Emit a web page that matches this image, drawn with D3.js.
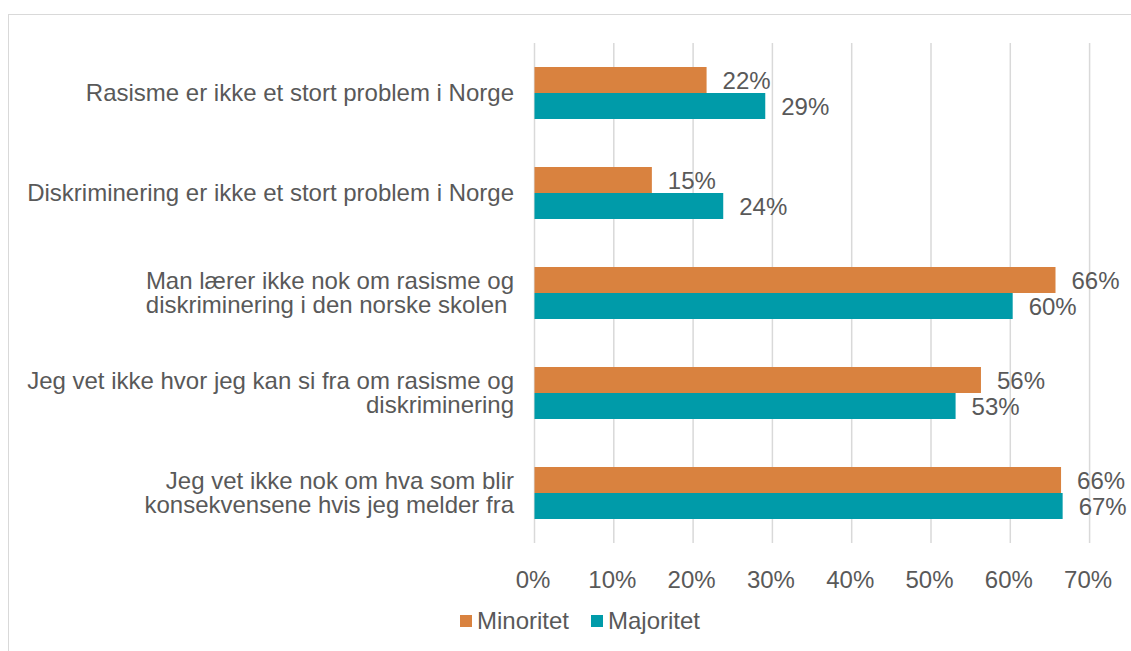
<!DOCTYPE html>
<html>
<head>
<meta charset="utf-8">
<script src="https://cdn.jsdelivr.net/npm/d3@7"></script>
<style>
  body { margin: 0; background: #fff; }
  svg { display: block; font-family: "Liberation Sans", Arial, sans-serif; }
</style>
</head>
<body>
<div id="chart"></div>
<script>
// Kategorier (hver linje i etiketten er et eget element)
const categories = [
  ["Rasisme er ikke et stort problem i Norge"],
  ["Diskriminering er ikke et stort problem i Norge"],
  ["Man lærer ikke nok om rasisme og", "diskriminering i den norske skolen "],
  ["Jeg vet ikke hvor jeg kan si fra om rasisme og", "diskriminering"],
  ["Jeg vet ikke nok om hva som blir", "konsekvensene hvis jeg melder fra"]
];
const seriesNames = ["Minoritet", "Majoritet"];
const minoritet = [0.217, 0.148, 0.657, 0.563, 0.664];
const majoritet = [0.291, 0.238, 0.603, 0.531, 0.666];
const xTicks = [0, 0.1, 0.2, 0.3, 0.4, 0.5, 0.6, 0.7];
const colors = ["#D9823F", "#009BA9"];

const width = 1131, height = 651;
const plot = { left: 534.5, right: 1089.6, top: 43, bottom: 543 };
const textColor = "#595959";
const fontSize = 24;

const svg = d3.select("#chart").append("svg")
  .attr("width", width)
  .attr("height", height);

// Ramme rundt diagrammet
svg.append("rect")
  .attr("x", 8.5).attr("y", 14.5)
  .attr("width", 1130).attr("height", 650)
  .attr("fill", "none")
  .attr("stroke", "#d9d9d9")
  .attr("stroke-width", 1);

const x = d3.scaleLinear().domain([0, 0.7]).range([plot.left, plot.right]);
const y = d3.scaleBand().domain(d3.range(categories.length))
  .range([plot.top, plot.bottom]).paddingInner(0.48).paddingOuter(0.24);
const ySub = d3.scaleBand().domain([0, 1]).range([0, y.bandwidth()]);

// Rutenett
svg.append("g").selectAll("line").data(xTicks).enter().append("line")
  .attr("x1", d => x(d)).attr("x2", d => x(d))
  .attr("y1", plot.top).attr("y2", plot.bottom)
  .attr("stroke", "#d9d9d9")
  .attr("stroke-width", 1.5);

// X-akse
const xAxis = d3.axisBottom(x).tickValues(xTicks).tickFormat(d3.format(".0%")).tickSize(0).tickPadding(0);
const gx = svg.append("g")
  .attr("transform", "translate(-2, 588)")
  .call(xAxis);
gx.select(".domain").remove();
gx.selectAll("text")
  .attr("fill", textColor)
  .attr("font-size", fontSize)
  .attr("font-family", "Liberation Sans, Arial, sans-serif")
  .attr("y", 0)
  .attr("dy", 0);

// Søyler
const series = [minoritet, majoritet];
const fmt = d3.format(".0%");
series.forEach((vals, s) => {
  const g = svg.append("g");
  g.selectAll("rect").data(vals).enter().append("rect")
    .attr("x", x(0))
    .attr("y", (d, i) => y(i) + ySub(s))
    .attr("width", d => x(d) - x(0))
    .attr("height", ySub.bandwidth())
    .attr("fill", colors[s]);
  g.selectAll("text").data(vals).enter().append("text")
    .attr("x", d => x(d) + 16)
    .attr("y", (d, i) => y(i) + ySub(s) + ySub.bandwidth() / 2)
    .attr("dy", "0.38em")
    .attr("fill", textColor)
    .attr("font-size", fontSize)
    .text(d => fmt(d));
});

// Kategorietiketter
const labelX = 514;
const lineH = 24;
const cat = svg.append("g").selectAll("text").data(categories).enter().append("text")
  .attr("text-anchor", "end")
  .attr("fill", textColor)
  .attr("font-size", fontSize)
  .attr("xml:space", "preserve")
  .attr("y", (d, i) => y(i) + y.bandwidth() / 2);
cat.each(function(lines) {
  const t = d3.select(this);
  lines.forEach((line, k) => {
    t.append("tspan")
      .attr("x", labelX)
      .attr("dy", k === 0 ? `${0.35 * fontSize - (lines.length - 1) * lineH / 2}px` : `${lineH}px`)
      .text(line);
  });
});

// Forklaring
const legendY = 621;
const legendItems = [{ x: 460, name: seriesNames[0], c: colors[0] }, { x: 591, name: seriesNames[1], c: colors[1] }];
const lg = svg.append("g").selectAll("g").data(legendItems).enter().append("g");
lg.append("rect")
  .attr("x", d => d.x).attr("y", legendY - 6)
  .attr("width", 12).attr("height", 12)
  .attr("fill", d => d.c);
lg.append("text")
  .attr("x", d => d.x + 17).attr("y", legendY)
  .attr("dy", "0.35em")
  .attr("fill", textColor)
  .attr("font-size", fontSize)
  .text(d => d.name);
</script>
</body>
</html>
